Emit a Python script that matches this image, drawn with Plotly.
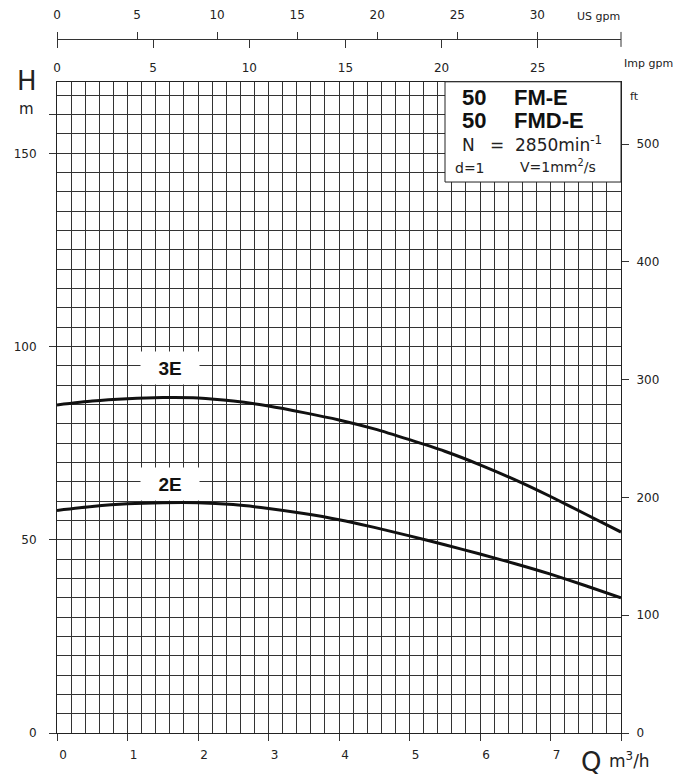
import plotly.graph_objects as go

# ---------------- data ----------------
Q = [0, 0.5, 1, 1.5, 2, 2.5, 3, 3.5, 4, 4.5, 5, 5.5, 6, 6.5, 7, 7.5, 8]
H_3E = [84.9, 85.9, 86.5, 86.8, 86.7, 85.9, 84.6, 82.9, 81.0, 78.7, 75.9, 72.9, 69.4, 65.5, 61.2, 56.6, 52.0]
H_2E = [57.6, 58.6, 59.3, 59.6, 59.6, 59.1, 58.1, 56.8, 55.2, 53.2, 51.0, 48.7, 46.3, 43.8, 41.1, 38.1, 35.0]
CURVE_NAMES = ["3E", "2E"]

Q_TICKS = [0, 1, 2, 3, 4, 5, 6, 7, 8]
Q_TICKTEXT = ["0", "1", "2", "3", "4", "5", "6", "7", ""]
H_TICKS = [0, 50, 100, 150, 160]
H_TICKTEXT = ["0", "50", "100", "150", ""]
FT_TICKS = [0, 100, 200, 300, 400, 500]
USGPM_TICKS = [0, 5, 10, 15, 20, 25, 30]
IMPGPM_TICKS = [0, 5, 10, 15, 20, 25]

Q_MAX = 8
H_MAX = 168.5
M_TO_FT = 1 / 0.3048
M3H_TO_USGPM = 4.40287
M3H_TO_IMPGPM = 3.66615

# ---------------- layout helpers ----------------
OFF = 8                      # page body margin
W, HGT = 684 - OFF, 777 - OFF
ML = 57 - OFF
MR = W - (621 - OFF)
MT = 0
MB = HGT - (733 - OFF)
PW = W - ML - MR
PH = HGT - MT - MB


def px(x):
    """screen x pixel -> paper"""
    return (x - OFF - ML) / PW


def py(y):
    """screen y pixel -> paper"""
    return (HGT - MB - (y - OFF)) / PH


GRID_TOP = py(80)
TOPAXIS = py(37)
GRID = "#333333"
TXT = "#222222"
FONT = "DejaVu Sans"
BOLD = "Liberation Sans"

fig = go.Figure()

for name, h in zip(CURVE_NAMES, [H_3E, H_2E]):
    fig.add_trace(go.Scatter(x=Q, y=h, mode="lines", name=name,
                             line=dict(color="#111", width=3, shape="spline", smoothing=0.6),
                             hoverinfo="skip", showlegend=False))

# secondary unit axes (carry converted copies of the curves, invisible)
fig.add_trace(go.Scatter(x=Q, y=[v * M_TO_FT for v in H_3E], yaxis="y2", mode="lines",
                         line=dict(width=0), opacity=0, hoverinfo="skip", showlegend=False))
fig.add_trace(go.Scatter(x=[q * M3H_TO_USGPM for q in Q], y=H_3E, xaxis="x2", mode="lines",
                         line=dict(width=0), opacity=0, hoverinfo="skip", showlegend=False))
fig.add_trace(go.Scatter(x=[q * M3H_TO_IMPGPM for q in Q], y=H_3E, xaxis="x3", mode="lines",
                         line=dict(width=0), opacity=0, hoverinfo="skip", showlegend=False))

tickfont = dict(family=FONT, size=12, color=TXT)

fig.update_layout(
    width=W, height=HGT, autosize=False,
    margin=dict(l=ML, r=MR, t=MT, b=MB, pad=0),
    paper_bgcolor="white", plot_bgcolor="white",
    xaxis=dict(domain=[0, 1], range=[0, Q_MAX], anchor="y",
               tickmode="array", tickvals=Q_TICKS, ticktext=Q_TICKTEXT,
               ticks="outside", ticklen=7, tickcolor="#333", tickwidth=1,
               showline=True, linecolor="#222", linewidth=1, mirror=True,
               showgrid=True, gridcolor=GRID, gridwidth=1, zeroline=False,
               minor=dict(tickmode="linear", tick0=0, dtick=0.2, showgrid=True,
                          gridcolor=GRID, gridwidth=1, ticks=""),
               tickfont=tickfont, ticklabelstandoff=4, ticklabelshift=6),
    yaxis=dict(domain=[0, GRID_TOP], range=[0, H_MAX], anchor="x",
               tickmode="array", tickvals=H_TICKS, ticktext=H_TICKTEXT,
               ticks="outside", ticklen=7, tickcolor="#333", tickwidth=1,
               showline=True, linecolor="#222", linewidth=1, mirror=True,
               showgrid=False, zeroline=False,
               minor=dict(tickmode="linear", tick0=0, dtick=5, showgrid=True,
                          gridcolor=GRID, gridwidth=1, ticks=""),
               tickfont=tickfont, ticklabelstandoff=10),
    yaxis2=dict(overlaying="y", side="right", anchor="x", range=[0, H_MAX * M_TO_FT],
                tickmode="array", tickvals=FT_TICKS,
                ticks="outside", ticklen=7, tickcolor="#333", tickwidth=1,
                showline=False, showgrid=False, zeroline=False,
                tickfont=tickfont, ticklabelstandoff=5),
    xaxis2=dict(overlaying="x", anchor="free", position=TOPAXIS, side="top",
                range=[0, Q_MAX * M3H_TO_USGPM], tickmode="array", tickvals=USGPM_TICKS,
                ticks="outside", ticklen=7, tickcolor="#333", tickwidth=1,
                showline=True, linecolor="#333", linewidth=1,
                showgrid=False, zeroline=False, tickfont=tickfont, ticklabelstandoff=8),
    xaxis3=dict(overlaying="x", anchor="free", position=TOPAXIS, side="bottom",
                range=[0, Q_MAX * M3H_TO_IMPGPM], tickmode="array", tickvals=IMPGPM_TICKS,
                ticks="outside", ticklen=8, tickcolor="#333", tickwidth=1,
                showline=True, linecolor="#333", linewidth=1,
                showgrid=False, zeroline=False, tickfont=tickfont, ticklabelstandoff=10),
)

# end cap of the top scales
fig.add_shape(type="line", xref="paper", yref="paper", x0=1, x1=1,
              y0=py(30), y1=py(45), line=dict(color="#333", width=1))

# info box
fig.add_shape(type="rect", xref="paper", yref="paper", x0=px(445), x1=1,
              y0=py(180.5), y1=GRID_TOP, fillcolor="white",
              line=dict(color="#222", width=1), layer="above")

ann = []


def add(text, x, y, size, family=FONT, xanchor="left", color=TXT, **kw):
    ann.append(dict(text=text, x=px(x), y=py(y), xref="paper", yref="paper",
                    xanchor=xanchor, yanchor="middle", showarrow=False,
                    font=dict(family=family, size=size, color=color), **kw))


add("<b>50</b>", 460, 96, 22, family=BOLD, color="#111")
add("<b>FM-E</b>", 512, 96, 22, family=BOLD, color="#111")
add("<b>50</b>", 460, 119, 22, family=BOLD, color="#111")
add("<b>FMD-E</b>", 512, 119, 22, family=BOLD, color="#111")
add("N", 460, 143, 17)
add("=", 488, 143, 17)
add("2850min<sup>-1</sup>", 513, 142, 17)
add("d=1", 453, 166, 14)
add("V=1mm<sup>2</sup>/s", 518, 164, 14)
add("ft", 628, 95, 11)
add("H", 27, 79, 26, xanchor="center")
add("m", 26, 107, 15, xanchor="center")
add("US gpm", 622, 15, 11, xanchor="right")
add("Imp gpm", 622, 62, 11)
add("Q", 591, 762, 26, xanchor="center")
add("m<sup>3</sup>/h", 607, 760, 17)

fig.update_layout(annotations=ann)

# curve labels
for name, xq, yh in zip(CURVE_NAMES, [1.6, 1.6], [94.4, 64.4]):
    fig.add_annotation(text="<b>%s</b>" % name, x=xq, y=yh, xref="x", yref="y",
                       showarrow=False, bgcolor="white", width=56, height=30,
                       font=dict(family=BOLD, size=19, color="#111"))

fig.write_html("out.html")
